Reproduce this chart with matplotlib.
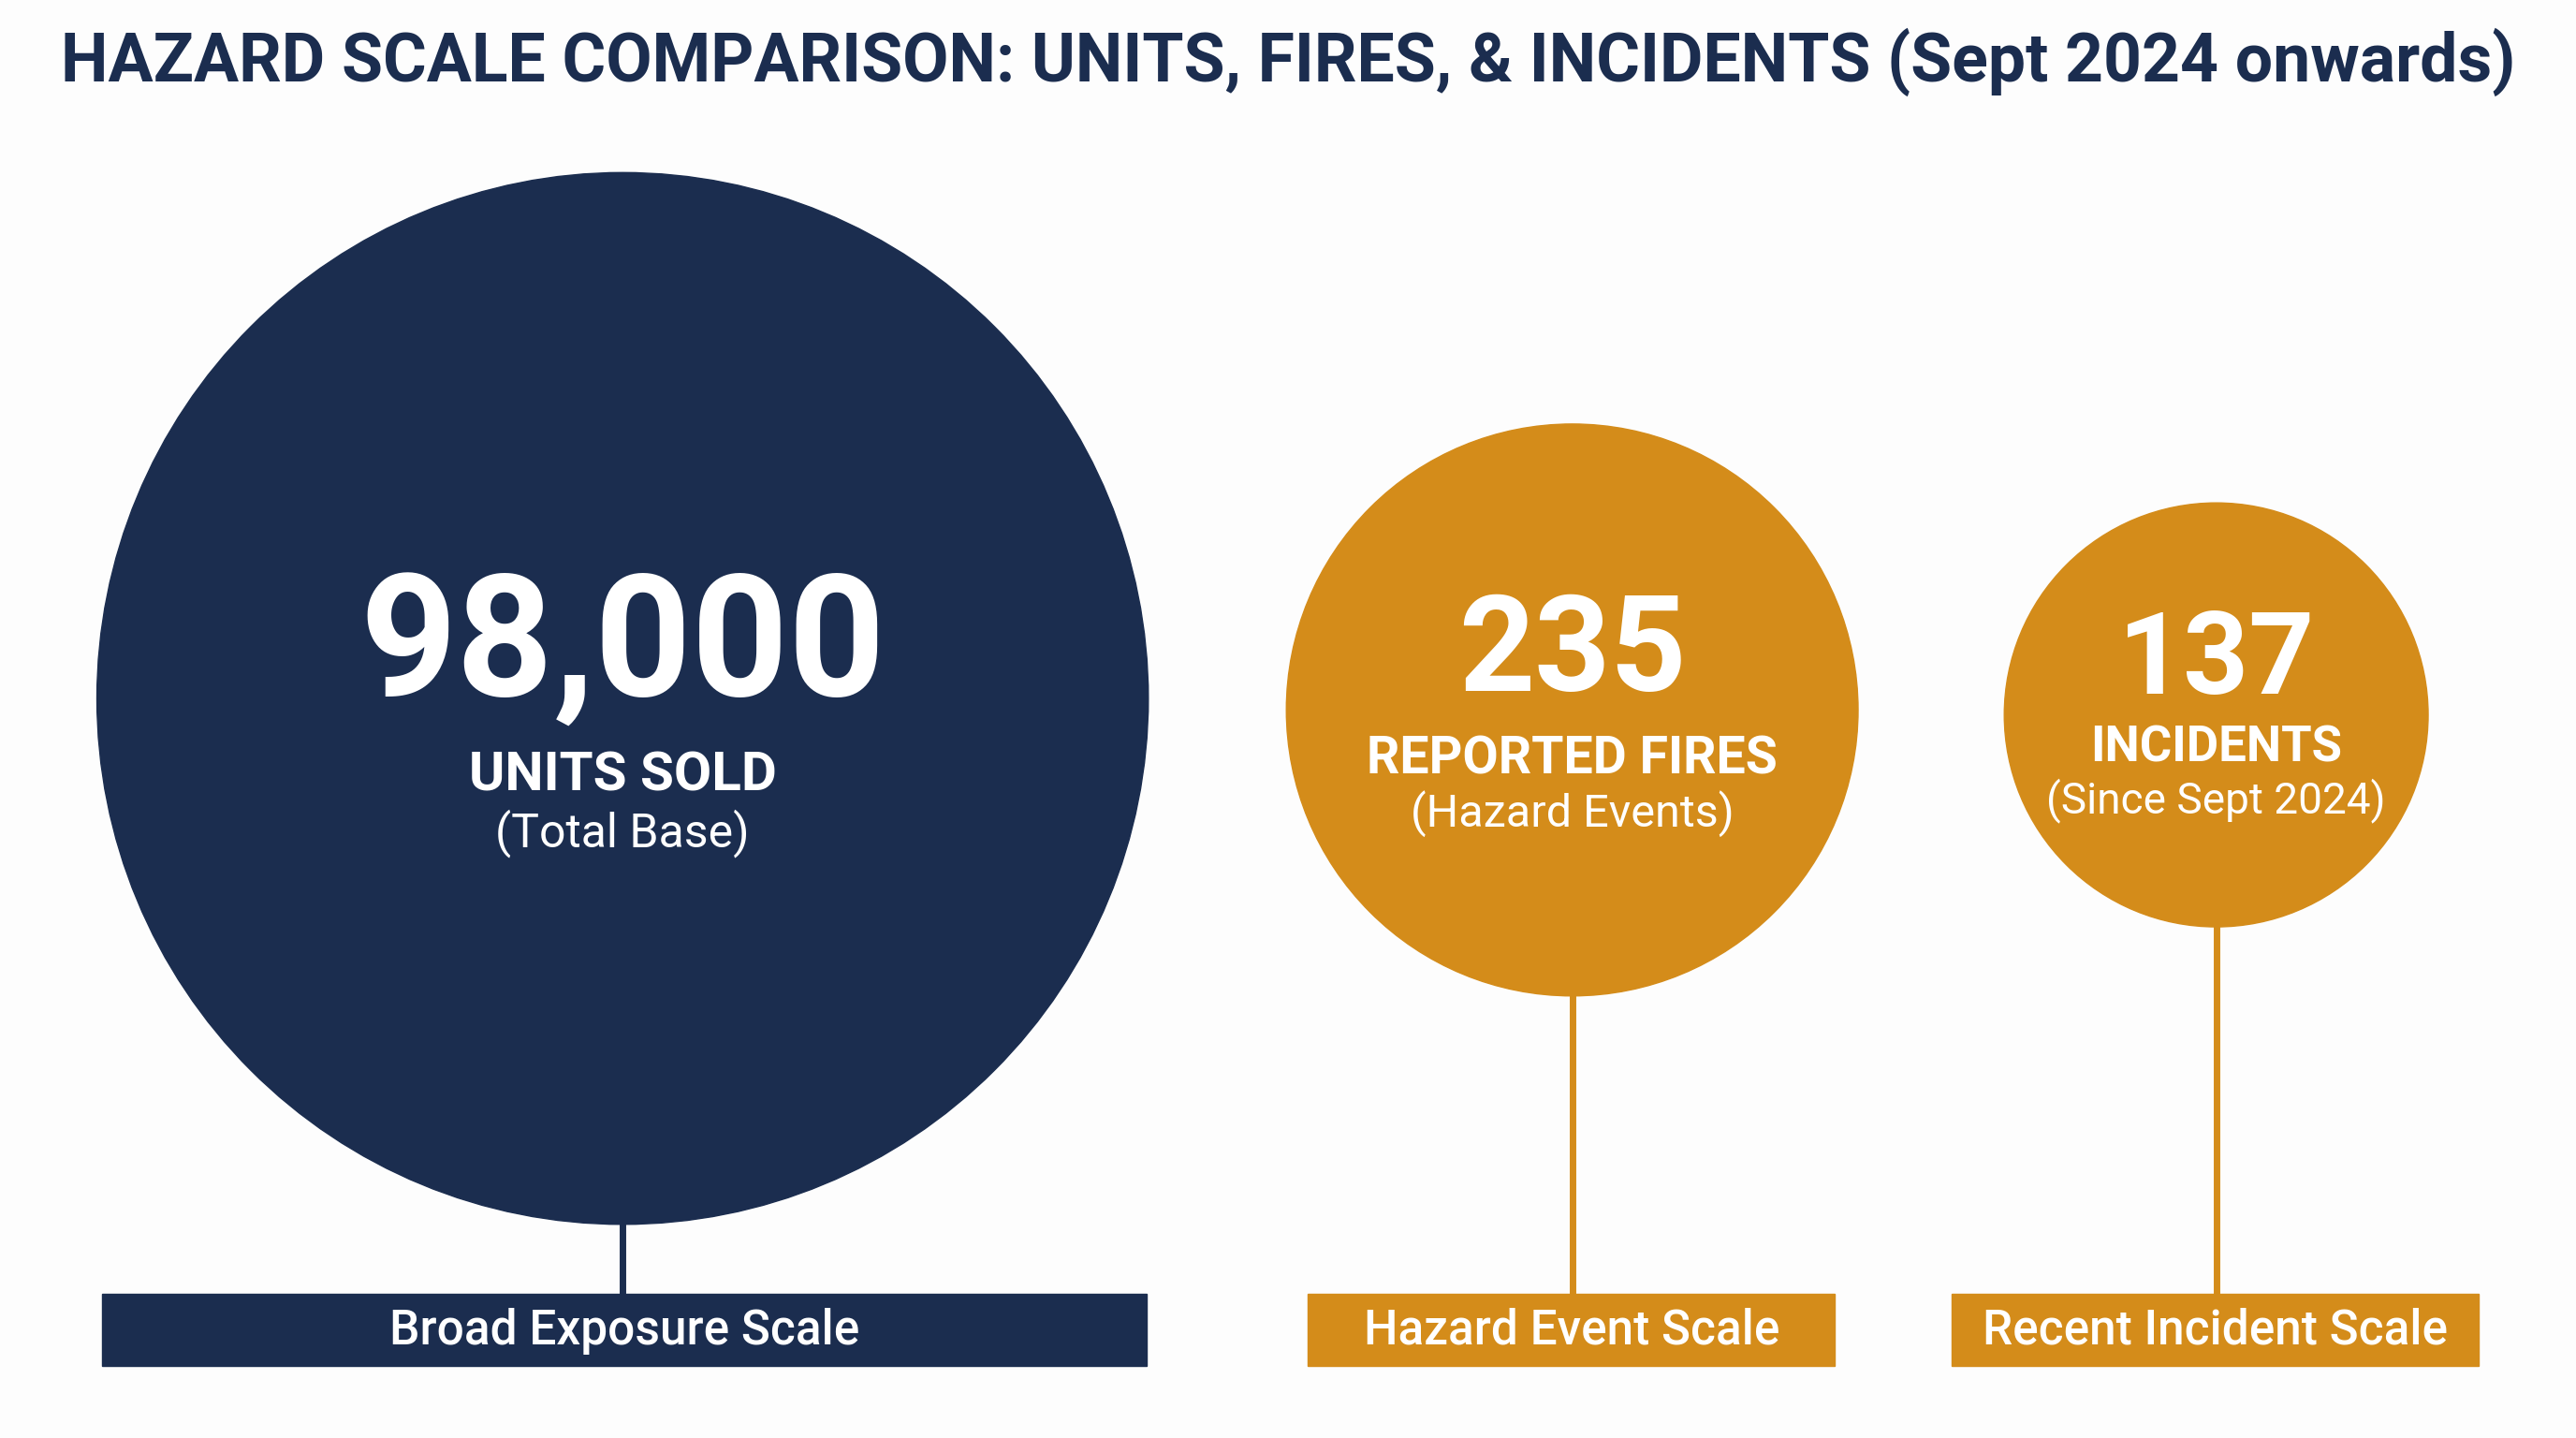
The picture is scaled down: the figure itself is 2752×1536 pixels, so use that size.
import matplotlib
matplotlib.use("Agg")
import matplotlib.pyplot as plt
from matplotlib.patches import Circle, Rectangle

plt.rcParams['font.family'] = ['Roboto', 'DejaVu Sans']

title = "HAZARD SCALE COMPARISON: UNITS, FIRES, & INCIDENTS (Sept 2024 onwards)"
values = [98000, 235, 137]
labels = ["UNITS SOLD", "REPORTED FIRES", "INCIDENTS"]
sublabels = ["(Total Base)", "(Hazard Events)", "(Since Sept 2024)"]
scales = ["Broad Exposure Scale", "Hazard Event Scale", "Recent Incident Scale"]

NAVY = "#1b2d4f"
ORANGE = "#d48c1a"
colors = [NAVY, ORANGE, ORANGE]
centers = [(379, 425), (957, 432), (1349, 435)]
radii = [320, 174, 129]
boxes = [(62, 698), (796, 1117), (1188, 1509)]
box_top, box_bot = 787, 831
num_fs = [130, 102, 88]
lab_fs = [42, 40, 38]
sub_fs = [36, 35, 33]
num_dy = [-30, -34, -32]
lab_dy = [47, 30, 20]
sub_dy = [82, 63, 52]

fig = plt.figure(figsize=(27.52, 15.36), dpi=100)
fig.patch.set_facecolor("#fdfdfd")
ax = fig.add_axes([0, 0, 1, 1])
ax.set_xlim(0, 1568)
ax.set_ylim(875, 0)
ax.axis("off")

ax.text(784, 38, title, ha="center", va="center", fontsize=51.5, fontweight="bold", color=NAVY)

for i in range(3):
    cx, cy = centers[i]
    r = radii[i]
    c = colors[i]
    ax.plot([cx, cx], [cy + r - 2, box_top], color=c, lw=5, zorder=1)
    ax.add_patch(Circle((cx, cy), r, color=c, zorder=2))
    ax.text(cx, cy + num_dy[i], f"{values[i]:,}", ha="center", va="center",
            fontsize=num_fs[i], fontweight="bold", color="white", zorder=3)
    ax.text(cx, cy + lab_dy[i], labels[i], ha="center", va="center",
            fontsize=lab_fs[i], fontweight="bold", color="white", zorder=3)
    ax.text(cx, cy + sub_dy[i], sublabels[i], ha="center", va="center",
            fontsize=sub_fs[i], color="white", zorder=3)
    x0, x1 = boxes[i]
    ax.add_patch(Rectangle((x0, box_top), x1 - x0, box_bot - box_top, color=c, zorder=2))
    ax.text((x0 + x1) / 2, (box_top + box_bot) / 2 + 1, scales[i], ha="center", va="center",
            fontsize=37, fontweight="medium", color="white", zorder=3)

fig.savefig("out.png", dpi=100, facecolor=fig.get_facecolor())
